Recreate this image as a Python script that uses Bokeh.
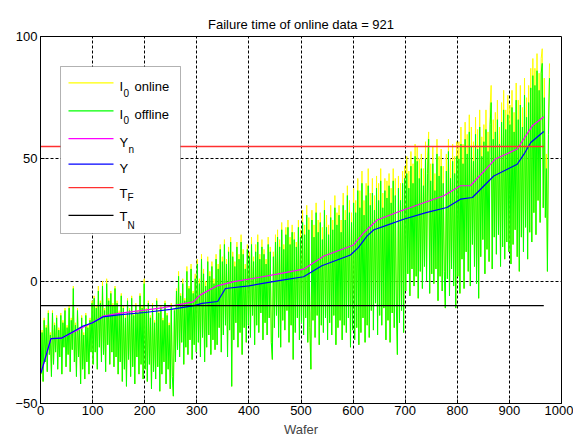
from bokeh.plotting import figure
from bokeh.models import Range1d, FixedTicker, Label, Arrow, BoxAnnotation
from bokeh.embed import file_html
from bokeh.resources import INLINE

TITLE = "Failure time of online data = 921"
X_LABEL = "Wafer"
X_TICKS = [0, 100, 200, 300, 400, 500, 600, 700, 800, 900, 1000]
Y_TICKS = [-50, 0, 50, 100]

# sampled wafer indices (every 2nd wafer)
wafer = list(range(1, 978, 2))

# I0 offline (green)
i0_offline = [
    -38, -21, -41, -16, -33, -19, -37, -13, -30, -22, -39, -13, -34, -18, -29, -15, -36, -20, -31, -14,
    -38, -17, -27, -12, -35, -19, -30, -11, -37, -16, -28, -3, -33, -18, -39, -12, -31, -20, -42, -15,
    -36, -22, -40, -14, -33, -19, -38, -16, -29, -9,
    -34, -7, -29, -11, -36, -4, -27, -9, -33, -2, -30, -12, -37, -1, -26, -8, -34, -5, -29, -10,
    -35, -3, -31, -9, -38, -13, -33, -6, -41, -11, -36, -15, -43, -8, -32, -12, -39, -7, -35, -14,
    -42, -10, -31, -13, -38, -6, -34, -11, -40, -1,
    -36, -12, -41, -9, -34, -15, -44, -10, -37, -17, -40, -8, -35, -13, -45, -11, -38, -16, -33, -9,
    -42, -14, -36, -18, -44, -10, -39, -47, -12, -33, -4, -28, 2, -31, -6, -25, -1, -34, -8, -27,
    4, -30, -3, -24, 5, -32, -5, -26, 1, -29,
    7, -25, -1, -31, 9, -23, 3, -33, -2, -27, 8, -22, 2, -30, 6, -24, -1, -28, 9, -26,
    5, -19, 13, -29, 8, -22, 15, -18, 7, -31, 12, -20, 16, -43, 10, -24, 6, -17, 14, -27,
    9, -21, 16, -30, 11, -19, 5, -25, 13, -18,
    10, -23, 15, -14, 8, -26, 12, -18, 16, -21, 9, -13, 14, -24, 11, -17, 7, -22, 15, -15,
    12, -25, -32, 10, -19, 16, -14, 18, -23, 14, -27, 21, -16, 13, -20, 19, -12, 22, -25, 15,
    -18, 20, -32, 17, -21, 14, -15, 22, -24, 18,
    -17, 24, -22, 19, -15, 27, -25, 21, -19, -36, 25, -16, 18, -23, 28, -14, 20, -26, 24, -18,
    17, -21, 29, -15, 22, -24, 19, -17, 26, -22, 21, -14, 30, -26, 23, -19, 27, -16, 20, -24,
    31, -18, 25, -21, 35, -15, 28, -27, 24, -20,
    32, -24, 28, -19, 37, -26, 30, -21, 40, -15, 27, -25, 35, -18, 39, -23, 31, -12, 36, -20,
    29, -9, 38, -22, 33, -14, 41, -18, 30, -11, 37, -24, 34, -16, 39, -25, 32, -13, 41, -19,
    35, -10, -30, 38, -17, 33, -12, 40, -21, 42,
    -4, 44, 3, 38, -6, 47, 5, 40, -2, 51, 2, 49, -7, 42, 4, 46, -3, 39, 6, 50,
    0, 44, 58, -5, 41, 3, 48, -1, 37, 5, 52, -8, 43, 2, 47, -4, 40, 4, -11, 45,
    1, 53, -6, 42, 5, 49, -2, 44, -11, 51,
    2, 50, -5, 56, 9, 48, -3, 58, 12, 52, 4, 61, -2, 55, 15, 49, 6, 60, -1, 54,
    -7, 63, 10, 51, 17, 57, 3, 62, 13, 53, 8, 64, 73, 5, 58, 18, 61, 11, 66, 19,
    56, 6, 65, 14, 70, 9, 62, 16, 68, 12,
    64, 7, 71, 15, 61, 21, 74, 10, 66, 4, 72, 18, 63, 12, 76, 22, 67, 9, 73, 20,
    79, 16, 84, 28, 80, 19, 86, 33, 78, 24, 85, 89, 30, 75, 26, 46, 4, 60, 83,
]

# I0 online (yellow)
i0_online = [
    -38, -20, -41, -15, -33, -18, -37, -12, -30, -21, -39, -12, -34, -17, -29, -14, -36, -19, -31, -13,
    -38, -16, -27, -11, -35, -18, -30, -10, -37, -15, -28, -2, -33, -17, -39, -11, -31, -19, -42, -14,
    -36, -21, -40, -13, -33, -18, -38, -15, -29, -8,
    -34, -6, -29, -10, -36, -2, -27, -8, -33, 0, -30, -11, -37, 1, -26, -7, -34, -4, -29, -9,
    -35, -2, -31, -8, -38, -12, -33, -5, -41, -10, -36, -14, -43, -7, -32, -11, -39, -6, -35, -13,
    -42, -9, -31, -12, -38, -5, -34, -10, -40, 1,
    -36, -11, -41, -8, -34, -14, -44, -9, -37, -16, -40, -7, -35, -12, -45, -10, -38, -15, -33, -8,
    -42, -13, -36, -17, -44, -9, -39, -47, -11, -33, -3, -28, 4, -31, -5, -25, 1, -34, -7, -27,
    6, -30, -2, -24, 7, -32, -4, -26, 3, -29,
    9, -25, 1, -31, 11, -23, 5, -33, 0, -27, 10, -22, 4, -30, 8, -24, 1, -28, 11, -26,
    7, -19, 15, -29, 10, -22, 17, -18, 9, -31, 14, -20, 18, -43, 12, -24, 8, -17, 16, -27,
    11, -21, 19, -30, 13, -19, 7, -25, 15, -18,
    12, -23, 18, -14, 10, -26, 15, -18, 19, -21, 11, -13, 17, -24, 13, -17, 9, -22, 18, -15,
    14, -25, -32, 12, -19, 19, -14, 21, -23, 17, -27, 24, -16, 15, -20, 22, -12, 25, -25, 18,
    -18, 23, -32, 20, -21, 16, -15, 25, -24, 21,
    -17, 29, -22, 23, -15, 31, -25, 26, -19, -36, 29, -16, 23, -23, 32, -14, 25, -26, 28, -18,
    22, -21, 33, -15, 27, -24, 23, -17, 31, -22, 25, -14, 35, -26, 28, -19, 31, -16, 25, -24,
    36, -18, 29, -21, 39, -15, 33, -27, 28, -20,
    38, -24, 33, -19, 42, -26, 37, -21, 45, -15, 33, -25, 40, -18, 46, -23, 36, -12, 42, -20,
    35, -9, 43, -22, 40, -14, 46, -18, 36, -11, 42, -24, 41, -16, 44, -25, 38, -13, 46, -19,
    42, -10, -30, 43, -17, 40, -12, 45, -21, 47,
    -4, 51, 3, 45, -6, 53, 5, 48, -2, 56, 2, 55, -7, 50, 4, 52, -3, 46, 6, 57,
    0, 51, 61, -5, 48, 3, 55, -1, 44, 5, 58, -8, 51, 2, 54, -4, 47, 4, -11, 52,
    1, 58, -6, 50, 5, 56, -2, 51, -11, 57,
    2, 57, -5, 63, 9, 56, -3, 65, 12, 60, 4, 68, -2, 63, 15, 57, 6, 67, -1, 62,
    -7, 70, 10, 59, 17, 64, 3, 70, 13, 61, 8, 71, 80, 5, 66, 18, 69, 11, 74, 19,
    63, 6, 73, 14, 78, 9, 70, 16, 76, 12,
    72, 7, 78, 15, 69, 21, 81, 10, 74, 4, 80, 18, 71, 12, 83, 22, 75, 9, 80, 20,
    87, 16, 91, 28, 87, 19, 93, 33, 85, 24, 91, 95, 30, 83, 26, 52, 4, 68, 89,
]

# Y (blue)
y_wafer = [1, 20, 40, 60, 80, 100, 120, 150, 200, 250, 295, 310, 340, 355, 400, 455, 505, 540, 595, 610, 627, 640, 660, 697, 740, 780, 806, 829, 870, 915, 928, 941, 966]
y_value = [-37.5, -23.5, -23.3, -21, -18.5, -17, -14.6, -13.8, -12.8, -11.5, -10, -9.1, -8.3, -3, -1.9, 0.1, 1.8, 6.3, 10.7, 13.7, 18.5, 21, 22.5, 25.3, 28, 30.1, 33.5, 34.2, 43, 47.8, 51.9, 56.7, 61.2]

# Y_n (magenta)
yn_wafer = [1, 20, 40, 100, 120, 150, 200, 236, 293, 307, 339, 371, 410, 454, 505, 544, 601, 621, 646, 691, 774, 806, 825, 873, 915, 944, 966]
yn_value = [-37.5, -23.5, -23.3, -16.9, -14.3, -13.2, -11.8, -10.8, -8.5, -5.6, -1.9, -0.2, 1.2, 2.9, 4.9, 10.3, 14.8, 19.9, 25, 28.7, 34.9, 39, 39, 49.9, 54, 63.5, 67.2]

# thresholds
t_wafer = [0, 966]
T_F = 55
T_N = -10

FONT = "Liberation Sans"

p = figure(width=573, height=439, x_range=Range1d(0, 1000), y_range=Range1d(-50, 100),
           output_backend="svg", toolbar_location=None, title=TITLE,
           min_border_left=40, min_border_right=12, min_border_top=36, min_border_bottom=36)
p.background_fill_color = "white"
p.border_fill_color = "white"
p.outline_line_color = "black"
p.outline_line_width = 1

p.title.align = "center"
p.title.text_font = FONT
p.title.text_font_size = "13px"
p.title.text_font_style = "normal"
p.title.text_color = "black"
p.title.standoff = 10

for ax in (p.xaxis[0], p.yaxis[0]):
    ax.axis_line_color = "black"
    ax.major_tick_line_color = "black"
    ax.major_tick_in = 4
    ax.major_tick_out = 0
    ax.minor_tick_line_color = None
    ax.major_label_text_font = FONT
    ax.major_label_text_font_size = "13px"
    ax.major_label_text_color = "black"

p.xaxis.ticker = FixedTicker(ticks=X_TICKS)
p.yaxis.ticker = FixedTicker(ticks=Y_TICKS)
p.xaxis.major_label_standoff = 2
p.yaxis.major_label_standoff = 3
p.xaxis.axis_label = X_LABEL
p.xaxis.axis_label_text_font = FONT
p.xaxis.axis_label_text_font_size = "13px"
p.xaxis.axis_label_text_font_style = "normal"
p.xaxis.axis_label_standoff = 4

p.xgrid.ticker = FixedTicker(ticks=X_TICKS)
p.ygrid.ticker = FixedTicker(ticks=Y_TICKS)
for g in (p.xgrid[0], p.ygrid[0]):
    g.grid_line_color = "black"
    g.grid_line_dash = "3 2"
    g.grid_line_width = 1

n = min(len(wafer), len(i0_online), len(i0_offline))
p.line(wafer[:n], i0_online[:n], line_color="#FFFF00", line_width=1)
p.line(wafer[:n], i0_offline[:n], line_color="#00FF00", line_width=1)
p.line(yn_wafer, yn_value, line_color="#FF00FF", line_width=1.2)
p.line(y_wafer, y_value, line_color="#0000FF", line_width=1.2)
p.line(t_wafer, [T_F, T_F], line_color="#FF3030", line_width=1.5)
p.line(t_wafer, [T_N, T_N], line_color="black", line_width=1.2)

# manual legend (screen units relative to the plot frame, y up from frame bottom)
p.add_layout(BoxAnnotation(left=20, right=140, bottom=170, top=337,
                           left_units="screen", right_units="screen",
                           top_units="screen", bottom_units="screen",
                           fill_color="white", fill_alpha=1, line_color="black", line_width=1,
                           level="overlay"))

entries = [
    ("#FFFF00", 320.6, "I", "0", 316.6, 310.6, 83, "online"),
    ("#00FF00", 292.6, "I", "0", 289.3, 283.3, 83, "offline"),
    ("#FF00FF", 264.9, "Y", "n", 260.9, 254.3, 88, None),
    ("#0000FF", 239.3, "Y", None, 234.6, None, 0, None),
    ("#FF3030", 215.9, "T", "F", 210.1, 205.6, 87, None),
    ("black", 188.1, "T", "N", 186.6, 177.6, 87, None),
]
for color, ly, main, sub, base, subbase, subx, rest in entries:
    p.add_layout(Arrow(x_start=28, y_start=ly, x_end=73, y_end=ly,
                       start_units="screen", end_units="screen",
                       start=None, end=None, line_color=color, line_width=1.2, level="overlay"))
    p.add_layout(Label(x=79, y=base, x_units="screen", y_units="screen", text=main,
                       text_font=FONT, text_font_size="13px", text_baseline="alphabetic",
                       text_color="black", level="overlay"))
    if sub:
        p.add_layout(Label(x=subx, y=subbase, x_units="screen", y_units="screen", text=sub,
                           text_font=FONT, text_font_size="10px", text_baseline="alphabetic",
                           text_color="black", level="overlay"))
    if rest:
        p.add_layout(Label(x=94, y=base, x_units="screen", y_units="screen", text=rest,
                           text_font=FONT, text_font_size="13px", text_baseline="alphabetic",
                           text_color="black", level="overlay"))

open("out.html", "w").write(file_html(p, INLINE))
